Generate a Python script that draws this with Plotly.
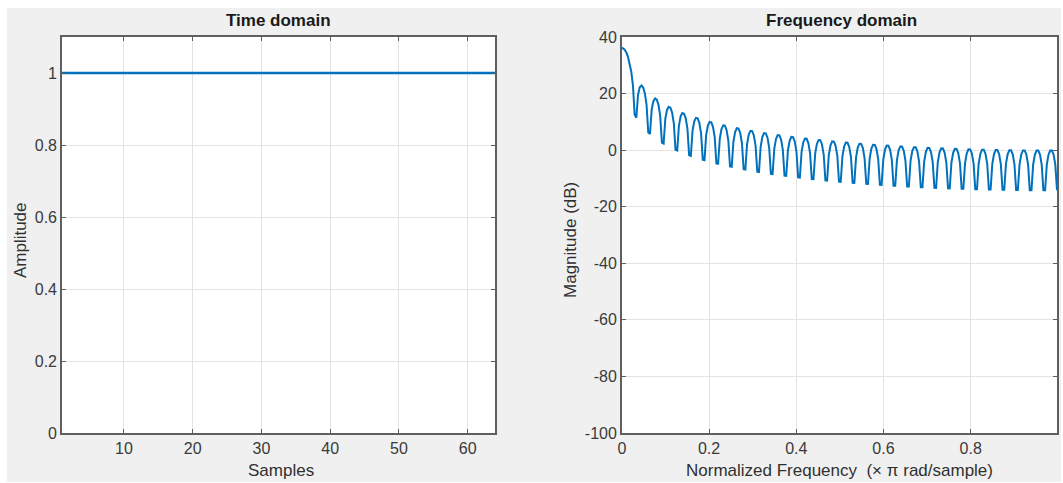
import numpy as np
import plotly.graph_objects as go

# Window under inspection: 64-point rectangular window
samples = list(range(1, 65))
amplitude = [1.0] * 64

time_xticks = [10, 20, 30, 40, 50, 60]
time_yticks = [0, 0.2, 0.4, 0.6, 0.8, 1]
time_yticklabels = ["0", "0.2", "0.4", "0.6", "0.8", "1"]
freq_xticks = [0, 0.2, 0.4, 0.6, 0.8]
freq_xticklabels = ["0", "0.2", "0.4", "0.6", "0.8"]
freq_yticks = [-100, -80, -60, -40, -20, 0, 20, 40]
freq_yticklabels = ["-100", "-80", "-60", "-40", "-20", "0", "20", "40"]

# Frequency response (DTFT of the window) on a normalized grid (x pi rad/sample)
n_freq = 256
norm_freq = np.concatenate([[0.0], (np.arange(n_freq) + 0.5) / n_freq])
omega = np.pi * norm_freq
w = np.asarray(amplitude)
n_idx = np.arange(len(w))
response = np.abs(np.exp(-1j * np.outer(omega, n_idx)) @ w)
magnitude_db = 20 * np.log10(response)

W, H = 1063, 483
L, R, T, B = 62, 4, 37, 50
PW = W - L - R
PH = H - T - B

def px_x(px):
    return (px - L) / PW

def px_y(py):
    return (H - B - py) / PH

blue = "#0072BD"
axis_col = "#5f5f5f"
grid_col = "#e3e3e3"
font = "Liberation Sans, Arial, sans-serif"

left_dom = [0, px_x(496)]
right_dom = [px_x(623), 1]

fig = go.Figure()
fig.add_trace(go.Scatter(x=samples, y=amplitude, mode="lines",
                         line=dict(color=blue, width=2.4),
                         xaxis="x", yaxis="y", showlegend=False))
fig.add_trace(go.Scatter(x=norm_freq, y=magnitude_db, mode="lines",
                         line=dict(color=blue, width=2.0),
                         xaxis="x2", yaxis="y2", showlegend=False))

common = dict(showgrid=True, gridcolor=grid_col, gridwidth=1,
              showline=True, linecolor=axis_col, linewidth=1.6,
              mirror="ticks", ticks="inside", ticklen=4, tickcolor=axis_col,
              tickfont=dict(family=font, size=16, color="#3a3a3a"),
              zeroline=False, fixedrange=True)

fig.update_layout(
    width=W, height=H,
    margin=dict(l=L, r=R, t=T, b=B),
    paper_bgcolor="white", plot_bgcolor="white",
    xaxis=dict(domain=left_dom, range=[1, 64], tickvals=time_xticks,
               anchor="y", **common),
    yaxis=dict(domain=[0, 1], range=[0, 1.1], tickvals=time_yticks,
               ticktext=time_yticklabels, anchor="x", **common),
    xaxis2=dict(domain=right_dom, range=[0, 0.998], tickvals=freq_xticks,
                ticktext=freq_xticklabels, anchor="y2", **common),
    yaxis2=dict(domain=[0, 1], range=[-100, 40], tickvals=freq_yticks,
                ticktext=freq_yticklabels, anchor="x2", **common),
    shapes=[
        dict(type="rect", xref="paper", yref="paper", layer="below",
             x0=px_x(7), x1=px_x(1063), y0=px_y(482), y1=px_y(8),
             fillcolor="#f0f0f0", line=dict(width=0)),
        dict(type="rect", xref="paper", yref="paper", layer="below",
             x0=left_dom[0], x1=left_dom[1], y0=0, y1=1,
             fillcolor="white", line=dict(width=0)),
        dict(type="rect", xref="paper", yref="paper", layer="below",
             x0=right_dom[0], x1=right_dom[1], y0=0, y1=1,
             fillcolor="white", line=dict(width=0)),
    ],
)

title_font = dict(family=font, size=17, color="#1a1a1a")
label_font = dict(family=font, size=17, color="#303030")
annotations = [
    dict(text="<b>Time domain</b>", x=px_x(279), y=px_y(21), font=title_font),
    dict(text="<b>Frequency domain</b>", x=px_x(843), y=px_y(21), font=title_font),
    dict(text="Samples", x=px_x(281), y=px_y(470), font=label_font),
    dict(text="Normalized Frequency  (\u00d7 \u03c0 rad/sample)", x=px_x(841),
         y=px_y(470), font=label_font),
    dict(text="Amplitude", x=px_x(20), y=px_y(240), textangle=-90, font=label_font),
    dict(text="Magnitude (dB)", x=px_x(571), y=px_y(240), textangle=-90, font=label_font),
]
for a in annotations:
    a.update(xref="paper", yref="paper", showarrow=False,
             xanchor="center", yanchor="middle")
fig.update_layout(annotations=annotations)

fig.write_html("out.html")
